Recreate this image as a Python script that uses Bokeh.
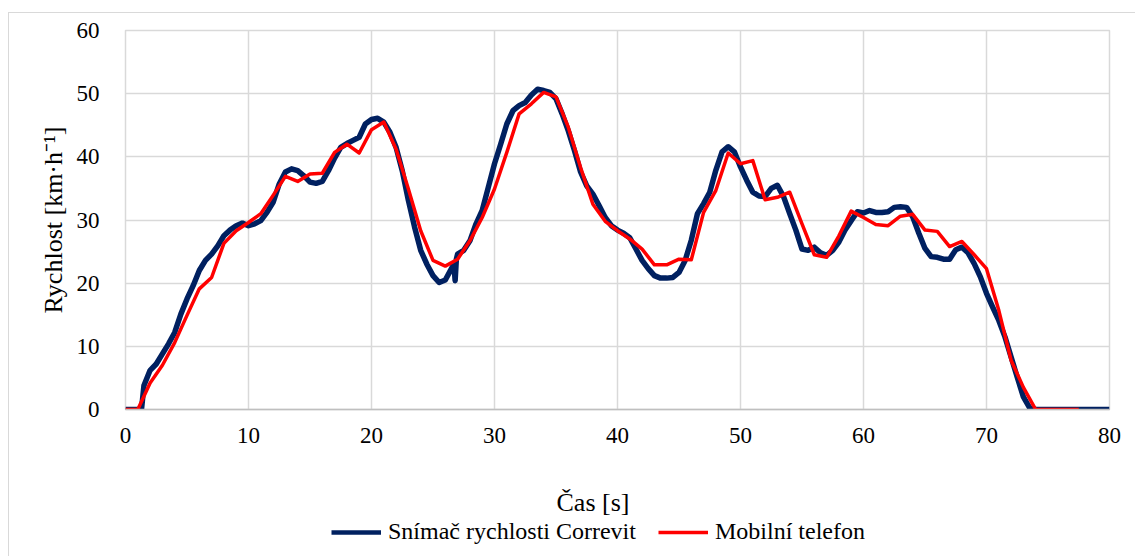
from bokeh.plotting import figure
from bokeh.layouts import column
from bokeh.models import Legend, LegendItem, FixedTicker, Range1d, Label
from bokeh.embed import file_html
from bokeh.resources import INLINE

# Snímač rychlosti Correvit (time [s], speed [km/h])
correvit_t = [0, 1.3, 1.5, 2, 2.5, 3, 3.5, 4, 4.5, 5, 5.5, 6, 6.5, 7, 7.5, 8, 8.5, 9, 9.5, 10,
              10.5, 11, 11.5, 12, 12.5, 13, 13.5, 14, 14.5, 15, 15.5, 16, 16.5, 17, 17.5, 18,
              18.5, 19, 19.5, 20, 20.5, 21, 21.5, 22, 22.5, 23, 23.5, 24, 24.5, 25, 25.5, 26,
              26.5, 26.7, 26.8, 26.9, 27, 27.5, 28, 28.5, 29, 29.5, 30, 30.5, 31, 31.5, 32,
              32.5, 33, 33.5, 34, 34.5, 35, 35.5, 36, 36.5, 37, 37.5, 38, 38.5, 39, 39.5, 40,
              40.5, 41, 41.5, 42, 42.5, 43, 43.5, 44, 44.5, 45, 45.5, 46, 46.5, 47, 47.5, 48,
              48.5, 49, 49.5, 50, 50.5, 51, 51.5, 52, 52.5, 53, 53.5, 54, 54.5, 55, 55.5, 56,
              56.5, 57, 57.5, 58, 58.5, 59, 59.5, 60, 60.5, 61, 61.5, 62, 62.5, 63, 63.5, 64,
              64.5, 65, 65.5, 66, 66.5, 67, 67.5, 68, 68.5, 69, 69.5, 70, 70.5, 71, 71.5, 72,
              72.5, 73, 73.5, 74, 80]
correvit_v = [0, 0, 3.8, 6.2, 7.2, 8.8, 10.4, 12.2, 15.1, 17.5, 19.6, 22.0, 23.6, 24.6, 25.9, 27.5,
              28.4, 29.1, 29.5, 29.1, 29.4, 29.9, 31.2, 32.8, 35.7, 37.6, 38.1, 37.8, 37.0, 36.0,
              35.8, 36.1, 37.8, 39.8, 41.5, 42.1, 42.6, 43.1, 45.2, 45.9, 46.1, 45.5, 43.9, 41.5,
              37.8, 33.1, 28.9, 25.2, 23.0, 21.2, 20.1, 20.5, 22.3, 23.0, 20.4, 23.8, 24.6, 25.2,
              26.7, 29.4, 31.5, 35.2, 38.9, 42.0, 45.2, 47.3, 48.1, 48.6, 49.8, 50.7, 50.5, 50.2,
              49.2, 46.8, 44.1, 41.0, 37.6, 35.4, 34.1, 32.3, 30.4, 29.1, 28.4, 27.9, 27.2, 25.4,
              23.6, 22.3, 21.2, 20.8, 20.8, 20.9, 21.7, 23.6, 26.8, 31.0, 32.6, 34.4, 37.9, 40.8,
              41.6, 40.8, 38.4, 36.3, 34.4, 33.8, 33.7, 35.0, 35.5, 33.7, 31.0, 28.4, 25.4, 25.2,
              25.7, 24.8, 24.4, 25.2, 26.5, 28.4, 29.9, 31.3, 31.1, 31.5, 31.2, 31.2, 31.3, 32.0,
              32.1, 32.0, 30.5, 27.9, 25.5, 24.2, 24.1, 23.8, 23.8, 25.3, 25.7, 24.8, 23.1, 21.0,
              18.4, 16.2, 14.1, 11.5, 8.3, 5.1, 2.0, 0.3, 0, 0]

# Mobilní telefon
mobil_t = list(range(0, 78)) + [77.5]
mobil_v = [0, 0, 4.2, 7.0, 10.6, 14.9, 19.1, 20.9, 26.3, 28.3, 29.6, 31.0, 33.9, 36.9, 36.1, 37.3,
           37.4, 40.7, 42.0, 40.6, 44.3, 45.5, 41.2, 34.9, 28.3, 23.6, 22.7, 23.8, 26.7, 30.4,
           34.9, 40.7, 46.8, 48.4, 50.2, 49.5, 44.7, 38.3, 32.5, 29.8, 28.3, 27.0, 25.4, 22.9,
           22.9, 23.8, 23.7, 31.2, 34.7, 40.6, 38.9, 39.4, 33.2, 33.6, 34.4, 29.4, 24.5, 24.1,
           27.5, 31.4, 30.4, 29.3, 29.1, 30.6, 30.9, 28.4, 28.2, 25.8, 26.6, 24.5, 22.3, 15.7,
           7.8, 3.5, 0, 0, 0, 0, 0]

x_ticks = [0, 10, 20, 30, 40, 50, 60, 70, 80]
y_ticks = [0, 10, 20, 30, 40, 50, 60]
x_title = "Čas [s]"
y_title = "Rychlost [km·h⁻¹]"
label_correvit = "Snímač rychlosti Correvit"
label_mobil = "Mobilní telefon"

FONT = "Liberation Serif"
GRID = "#d9d9d9"
BLUE = "#002060"
RED = "#ff0000"

# ---- main chart ----
p = figure(width=1126, height=442, output_backend="svg", toolbar_location=None,
           x_range=Range1d(0, 80), y_range=Range1d(0, 60),
           min_border_left=116, min_border_top=17, min_border_right=26, min_border_bottom=46)
p.background_fill_color = "white"
p.border_fill_color = "white"
p.outline_line_color = GRID
p.outline_line_width = 1.5

for g in (p.xgrid, p.ygrid):
    g.grid_line_color = GRID
    g.grid_line_width = 1.5

p.xaxis.ticker = FixedTicker(ticks=x_ticks)
p.yaxis.ticker = FixedTicker(ticks=y_ticks)
for ax in (p.xaxis, p.yaxis):
    ax.major_tick_line_color = None
    ax.minor_tick_line_color = None
    ax.major_label_text_font = FONT
    ax.major_label_text_font_size = "23px"
    ax.major_label_text_color = "black"
    ax.axis_label_text_font = FONT
    ax.axis_label_text_font_size = "26px"
    ax.axis_label_text_font_style = "normal"
    ax.axis_label_text_color = "black"
p.xaxis.axis_line_color = "#bfbfbf"
p.xaxis.axis_line_width = 1.5
p.yaxis.axis_line_color = None
p.xaxis.major_label_standoff = 12
p.yaxis.major_label_standoff = 20
p.yaxis.axis_label = y_title
p.yaxis.axis_label_standoff = 6

p.line(correvit_t, correvit_v, line_color=BLUE, line_width=5.5, line_join="round")
p.line(mobil_t, mobil_v, line_color=RED, line_width=3.5, line_join="round")

# ---- x-axis title and legend strip (frame aligned with the chart frame; 1 unit = 1 px) ----
leg = figure(width=1126, height=101, output_backend="svg", toolbar_location=None,
             x_range=Range1d(124, 1108), y_range=Range1d(556, 455),
             min_border_left=0, min_border_right=0, min_border_top=0, min_border_bottom=0)
leg.axis.visible = False
leg.grid.visible = False
leg.outline_line_color = None
leg.background_fill_color = "white"
leg.border_fill_color = "white"

nan = float("nan")
lb = leg.line([nan], [nan], line_color=BLUE, line_width=4.5)
lr = leg.line([nan], [nan], line_color=RED, line_width=3.5)

leg.add_layout(Label(x=555, y=502, text=x_title, text_align="left", text_baseline="middle",
                     text_font=FONT, text_font_size="26px", text_color="black"))

legend = Legend(items=[LegendItem(label=label_correvit, renderers=[lb]),
                       LegendItem(label=label_mobil, renderers=[lr])],
                location=(206, 11), orientation="horizontal",
                glyph_width=50, glyph_height=24, label_height=24, label_standoff=7, spacing=22,
                padding=0, margin=0, border_line_color=None, background_fill_alpha=0,
                label_text_font=FONT, label_text_font_size="24px", label_text_color="black")
leg.add_layout(legend)

layout = column(p, leg, spacing=0)
layout.margin = (12, 0, 0, 8)
layout.styles = {"border-left": "1px solid #d9d9d9", "border-top": "1px solid #d9d9d9"}

open("out.html", "w").write(file_html(layout, INLINE))
